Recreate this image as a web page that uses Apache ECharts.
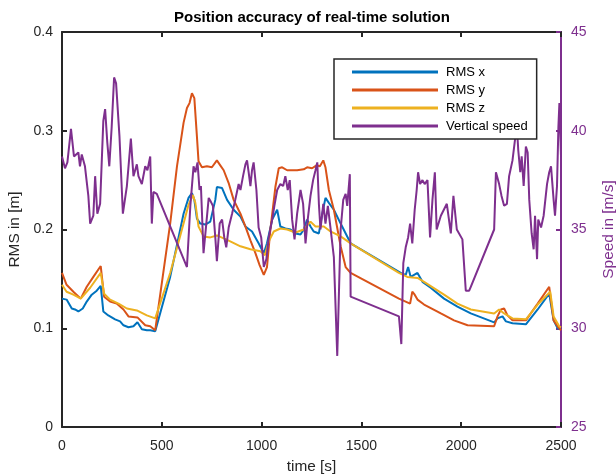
<!DOCTYPE html>
<html>
<head>
<meta charset="utf-8">
<title>Position accuracy</title>
<script src="https://cdn.jsdelivr.net/npm/echarts@6/dist/echarts.min.js"></script>
<style>
html, body { margin: 0; padding: 0; background: #fff; }
#chart { width: 616px; height: 474px; }
</style>
</head>
<body>
<div id="chart"></div>
<script>
// RMS x (blue)
var tX = [0, 23, 49, 65, 82, 104, 124, 149, 174, 194, 207, 232, 266, 291, 308, 333, 358, 378, 400, 425, 442, 467,
  542, 609, 634, 651, 663, 676, 693, 718, 743, 768, 776, 802, 827, 860, 894, 919, 952, 985, 1011, 1027, 1053, 1078,
  1094, 1119, 1145, 1170, 1195, 1211, 1228, 1245, 1261, 1287, 1304, 1320, 1337, 1362, 1396, 1446,
  1697, 1722, 1734, 1747, 1764, 1781, 1806, 1847, 1914, 1981, 2048, 2165, 2182, 2207, 2224, 2257, 2324, 2383, 2441,
  2450, 2463, 2483, 2500];
var rmsX = [0.130, 0.129, 0.120, 0.119, 0.117, 0.120, 0.127, 0.134, 0.138, 0.143, 0.117, 0.113, 0.109, 0.107, 0.103,
  0.101, 0.102, 0.106, 0.099, 0.098, 0.098, 0.097,
  0.152, 0.216, 0.232, 0.237, 0.230, 0.211, 0.206, 0.205, 0.208, 0.230, 0.243, 0.242, 0.230, 0.220, 0.213, 0.203,
  0.198, 0.186, 0.176, 0.186, 0.210, 0.220, 0.203, 0.201, 0.200, 0.196, 0.195, 0.200, 0.210, 0.203, 0.198, 0.196,
  0.216, 0.232, 0.227, 0.220, 0.206, 0.186,
  0.156, 0.154, 0.162, 0.152, 0.154, 0.156, 0.147, 0.141, 0.130, 0.122, 0.115, 0.106, 0.110, 0.112, 0.107, 0.105,
  0.104, 0.119, 0.135, 0.137, 0.108, 0.100, 0.099];

// RMS y (orange)
var tY = [0, 23, 57, 94, 124, 157, 194, 211, 241, 274, 308, 333, 378, 417, 442, 467,
  542, 576, 609, 626, 639, 651, 663, 676, 684, 701, 726, 751, 776, 793, 810, 835, 860, 894, 919, 944, 969, 990,
  1011, 1027, 1044, 1069, 1086, 1103, 1128, 1178, 1211, 1228, 1253, 1275, 1292, 1309, 1320, 1337, 1362, 1396,
  1421, 1446, 1688, 1697, 1744, 1755, 1767, 1781, 1814, 1898, 1964, 2032, 2165, 2182, 2199, 2215, 2232, 2257,
  2324, 2383, 2441, 2450, 2463, 2483, 2500];
var rmsY = [0.156, 0.144, 0.137, 0.130, 0.142, 0.152, 0.163, 0.132, 0.127, 0.125, 0.119, 0.112, 0.111, 0.103, 0.102, 0.098,
  0.206, 0.264, 0.308, 0.323, 0.328, 0.338, 0.333, 0.294, 0.269, 0.263, 0.264, 0.263, 0.270, 0.265, 0.260, 0.247,
  0.230, 0.216, 0.203, 0.189, 0.176, 0.164, 0.154, 0.162, 0.200, 0.243, 0.262, 0.263, 0.260, 0.260, 0.261, 0.263,
  0.262, 0.265, 0.264, 0.270, 0.263, 0.240, 0.220, 0.183, 0.162, 0.156, 0.130, 0.132, 0.125, 0.137, 0.134, 0.129,
  0.124, 0.115, 0.108, 0.103, 0.102, 0.112, 0.119, 0.120, 0.113, 0.108, 0.108, 0.125, 0.142, 0.142, 0.108, 0.102, 0.098];

// RMS z (yellow)
var tZ = [0, 23, 57, 94, 141, 194, 211, 241, 283, 325, 375, 425, 467,
  542, 609, 634, 656, 668, 684, 709, 743, 776, 810, 843, 894, 944, 994, 1016, 1036, 1061, 1094, 1128, 1170, 1211,
  1245, 1270, 1312, 1345, 1396, 1446, 1688, 1730, 1781, 1814, 1914, 1981, 2048, 2165, 2190, 2215, 2257, 2324,
  2383, 2446, 2463, 2491, 2500];
var rmsZ = [0.144, 0.137, 0.134, 0.130, 0.141, 0.156, 0.135, 0.129, 0.125, 0.120, 0.118, 0.113, 0.110,
  0.156, 0.206, 0.225, 0.235, 0.227, 0.203, 0.193, 0.192, 0.194, 0.191, 0.188, 0.183, 0.180, 0.178, 0.174, 0.188,
  0.198, 0.201, 0.200, 0.197, 0.200, 0.208, 0.203, 0.203, 0.198, 0.193, 0.186, 0.156, 0.152, 0.151, 0.147, 0.134,
  0.125, 0.119, 0.115, 0.119, 0.115, 0.110, 0.109, 0.124, 0.137, 0.112, 0.102, 0.101];

// Vertical speed (purple, right axis)
var tV = [0, 15, 27, 45, 60, 82, 90, 99, 115, 132, 141, 157, 166, 177, 191, 207, 216, 227, 237, 249, 261, 271, 288,
  305, 311, 325, 345, 358, 375, 383, 400, 417, 428, 442, 450, 458, 475, 626, 643, 659, 668, 679, 689, 696, 709,
  723, 735, 746, 756, 768, 776, 790, 802, 813, 823, 835, 852, 868, 885, 894, 907, 919, 927, 935, 944, 952, 960,
  974, 985, 998, 1011, 1024, 1036, 1053, 1064, 1078, 1094, 1108, 1119, 1131, 1141, 1153, 1165, 1178, 1195, 1208,
  1220, 1231, 1245, 1258, 1270, 1279, 1287, 1295, 1309, 1320, 1332, 1345, 1362, 1379, 1396, 1409, 1421, 1429,
  1442, 1446, 1688, 1700, 1710, 1722, 1734, 1744, 1755, 1767, 1777, 1784, 1794, 1806, 1817, 1831, 1844, 1856,
  1868, 1877, 1898, 1928, 1948, 1961, 1978, 2006, 2023, 2040, 2048, 2165, 2174, 2190, 2202, 2215, 2229, 2240,
  2257, 2269, 2279, 2286, 2296, 2303, 2313, 2324, 2333, 2341, 2353, 2363, 2370, 2380, 2386, 2400, 2413, 2430,
  2441, 2450, 2463, 2470, 2480, 2487, 2492, 2500];
var speed = [38.7, 38.1, 38.4, 40.1, 38.7, 38.9, 38.2, 38.8, 38.2, 36.7, 35.3, 35.7, 37.7, 35.8, 36.3, 40.5, 41.1,
  39.4, 38.2, 40.2, 42.7, 42.4, 39.7, 35.8, 35.7, 37.2, 39.6, 37.7, 38.3, 37.7, 37.3, 38.2, 38.0, 38.7, 35.3, 36.9,
  36.8, 33.1, 36.2, 38.2, 37.9, 38.4, 37.0, 37.2, 33.8, 35.3, 36.6, 36.4, 36.2, 34.6, 33.4, 35.3, 35.5, 34.6, 34.1,
  35.1, 35.8, 36.5, 37.3, 37.0, 37.7, 38.3, 38.5, 37.9, 37.2, 38.0, 38.4, 37.0, 35.1, 34.6, 33.1, 33.5, 34.6, 35.5,
  36.2, 37.0, 37.3, 37.2, 37.7, 37.0, 37.5, 35.5, 34.5, 35.8, 37.0, 36.3, 34.3, 35.5, 36.7, 37.5, 38.0, 38.4, 36.3,
  35.0, 36.3, 35.3, 36.2, 35.1, 33.6, 28.6, 35.0, 36.5, 36.8, 36.2, 37.8, 31.6, 30.6, 29.2, 33.3, 34.1, 34.6, 35.3,
  34.3, 36.0, 37.0, 37.9, 37.3, 37.5, 37.3, 37.5, 34.6, 36.5, 37.9, 35.0, 35.7, 36.3, 34.8, 36.7, 35.0, 34.5, 31.9,
  31.9, 32.1, 35.0, 37.9, 37.3, 36.7, 36.2, 36.3, 37.7, 38.5, 39.5, 40.2, 39.0, 37.9, 38.7, 37.2, 39.2, 38.9, 36.5,
  34.8, 34.0, 35.7, 33.5, 35.5, 35.1, 35.7, 37.3, 37.9, 38.2, 36.5, 35.7, 37.2, 40.2, 41.4, 38.7];

var xTicks = [0, 500, 1000, 1500, 2000, 2500];

function pairs(t, v) {
  var out = [];
  for (var i = 0; i < t.length; i++) out.push([t[i], v[i]]);
  return out;
}

var dark = '#262626';
var purple = '#7E2F8E';
var font = 'Liberation Sans, Arial, sans-serif';

var chart = echarts.init(document.getElementById('chart'));
chart.setOption({
  animation: false,
  backgroundColor: '#fff',
  title: {
    text: 'Position accuracy of real-time solution',
    left: 312, top: 10, textAlign: 'center', padding: 0,
    textStyle: { fontFamily: font, fontSize: 15, fontWeight: 'bold', color: '#000' }
  },
  legend: {
    orient: 'vertical',
    left: 334, top: 59,
    padding: [4, 9, 4, 18],
    itemGap: 0,
    itemWidth: 86, itemHeight: 3,
    icon: 'rect',
    backgroundColor: '#fff',
    borderColor: dark, borderWidth: 1.5,
    textStyle: { fontFamily: font, fontSize: 13, color: '#000', lineHeight: 18, padding: [0, 0, 0, 3] },
    data: ['RMS x', 'RMS y', 'RMS z', 'Vertical speed']
  },
  grid: { left: 62, right: 55, top: 32, bottom: 47, containLabel: false, outerBoundsMode: 'none' },
  xAxis: [{
    type: 'value', min: xTicks[0], max: xTicks[xTicks.length - 1], interval: 500,
    name: 'time [s]', nameLocation: 'middle', nameGap: 32,
    nameTextStyle: { fontFamily: font, fontSize: 15.4, color: dark },
    axisLine: { lineStyle: { color: dark, width: 2 } },
    axisTick: { inside: true, length: 5, lineStyle: { color: dark, width: 2 } },
    axisLabel: { fontFamily: font, fontSize: 14, color: dark, margin: 12, formatter: function (v) { return String(v); } },
    splitLine: { show: false }
  }, {
    type: 'value', position: 'top', min: 0, max: 2500, interval: 500,
    axisLine: { show: true, onZero: false, lineStyle: { color: dark, width: 2 } },
    axisTick: { show: true, inside: true, length: 5, lineStyle: { color: dark, width: 2 } },
    axisLabel: { show: false },
    splitLine: { show: false }
  }],
  yAxis: [{
    type: 'value', min: 0, max: 0.4, interval: 0.1,
    name: 'RMS in [m]', nameLocation: 'middle', nameGap: 29, nameRotate: 90,
    nameTextStyle: { fontFamily: font, fontSize: 15.4, color: dark },
    axisLine: { show: true, onZero: false, lineStyle: { color: dark, width: 2 } },
    axisTick: { show: true, inside: true, length: 5, lineStyle: { color: dark, width: 2 } },
    axisLabel: { fontFamily: font, fontSize: 14, color: dark, margin: 9 },
    splitLine: { show: false }
  }, {
    type: 'value', min: 25, max: 45, interval: 5, position: 'right',
    name: 'Speed in [m/s]', nameLocation: 'middle', nameGap: 40, nameRotate: 90,
    nameTextStyle: { fontFamily: font, fontSize: 15.4, color: purple },
    axisLine: { show: true, onZero: false, lineStyle: { color: purple, width: 2 } },
    axisTick: { show: true, inside: true, length: 5, lineStyle: { color: purple, width: 2 } },
    axisLabel: { fontFamily: font, fontSize: 14, color: purple, margin: 10 },
    splitLine: { show: false }
  }],
  series: [{
    name: 'RMS x', type: 'line', data: pairs(tX, rmsX), showSymbol: false,
    color: '#0072BD', lineStyle: { width: 2 }
  }, {
    name: 'RMS y', type: 'line', data: pairs(tY, rmsY), showSymbol: false,
    color: '#D95319', lineStyle: { width: 2 }
  }, {
    name: 'RMS z', type: 'line', data: pairs(tZ, rmsZ), showSymbol: false,
    color: '#EDB120', lineStyle: { width: 2 }
  }, {
    name: 'Vertical speed', type: 'line', yAxisIndex: 1, data: pairs(tV, speed), showSymbol: false,
    color: purple, lineStyle: { width: 2 }
  }]
});
</script>
</body>
</html>
